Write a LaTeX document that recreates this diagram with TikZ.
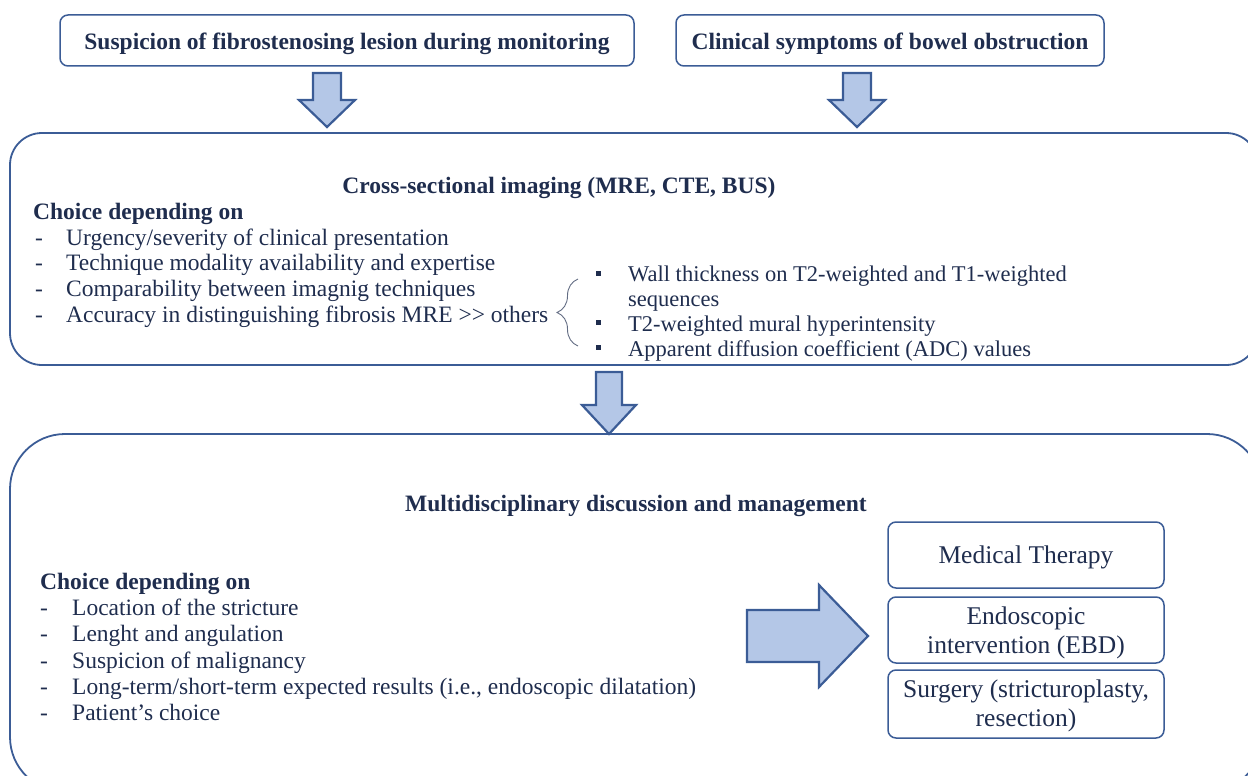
\documentclass[tikz,border=0pt]{standalone}
\usepackage{fontspec}
\setmainfont{Liberation Serif}
\usetikzlibrary{decorations.pathreplacing}
\definecolor{txt}{HTML}{1F2D4E}
\definecolor{edge}{HTML}{3B5C96}
\definecolor{afill}{HTML}{B4C7E7}
\newcommand\blockdown[6]{\draw[blk] (#1-#5,#2) -- (#1+#5,#2) -- (#1+#5,#3) -- (#1+#6,#3) -- (#1,#4) -- (#1-#6,#3) -- (#1-#5,#3) -- cycle;}
\begin{document}
\begin{tikzpicture}[x=1pt,y=-1pt,
  box/.style={draw=edge, line width=1.5pt, rounded corners=8pt, fill=white, inner sep=0},
  bigbox/.style={draw=edge, line width=1.8pt},
  blk/.style={draw=edge, line width=2.2pt, fill=afill, line join=miter},
  hd/.style={text=txt, font=\fontsize{23.5}{27}\selectfont\bfseries, inner sep=0, anchor=base},
  lead/.style={text=txt, font=\fontsize{23.5}{27}\selectfont\bfseries, inner sep=0, anchor=base west},
  itm/.style={text=txt, font=\fontsize{23.5}{27}\selectfont, inner sep=0, anchor=base west},
  sitm/.style={text=txt, font=\fontsize{22.5}{27}\selectfont, inner sep=0, anchor=base west},
  opt/.style={box, minimum width=276pt},
  otx/.style={text=txt, font=\fontsize{25.5}{28.5}\selectfont, align=center, inner sep=0},
  sq/.style={fill=txt, minimum size=5pt, inner sep=0}
]
\useasboundingbox (0,0) rectangle (1248,776);
\clip (0,0) rectangle (1248,776);

% top boxes
\node[box, minimum width=574pt, minimum height=51pt] (s1) at (347,40.5) {};
\node[hd] (s1t) at (347,50) {Suspicion of fibrostenosing lesion during monitoring};
\node[box, minimum width=428pt, minimum height=51pt] (s2) at (890,40.5) {};
\node[hd] (s2t) at (890,50) {Clinical symptoms of bowel obstruction};

% down arrows
\blockdown{327}{73}{100}{127}{14}{28}
\blockdown{857}{73}{100}{127}{14}{28}

% middle big box
\draw[bigbox, rounded corners=32pt] (10,133) rectangle (1258,365);
\node[hd] (c1) at (559,193) {Cross-sectional imaging (MRE, CTE, BUS)};
\node[lead] (c2) at (33,219) {Choice depending on};
\foreach \y/\t [count=\i] in {245/{Urgency/severity of clinical presentation},
  270/{Technique modality availability and expertise},
  296/{Comparability between imagnig techniques},
  322/{Accuracy in distinguishing fibrosis MRE >{}> others}}{
  \node[itm] (cd\i) at (35,\y) {-};
  \node[itm] (ct\i) at (66,\y) {\t};
}
\coordinate (brtop) at (578,279);
\coordinate (brbot) at (578,346);
\draw[txt!70, line width=0.9pt, decorate, decoration={brace, amplitude=21pt}] (brbot) -- (brtop);
\node[sq] (b1) at (598,273) {};
\node[sq] (b2) at (598,322) {};
\node[sq] (b3) at (598,347) {};
\node[sitm] (bt1) at (628,281) {Wall thickness on T2-weighted and T1-weighted};
\node[sitm] (bt1b) at (628,306) {sequences};
\node[sitm] (bt2) at (628,331) {T2-weighted mural hyperintensity};
\node[sitm] (bt3) at (628,356) {Apparent diffusion coefficient (ADC) values};

% arrow 3
\blockdown{609}{372}{405}{434}{13}{27}

% bottom big box
\draw[bigbox, rounded corners=55pt] (10,434) rectangle (1262,792);
\node[hd] (m1) at (636,511) {Multidisciplinary discussion and management};
\node[lead] (m2) at (40,589) {Choice depending on};
\foreach \y/\t [count=\i] in {615/{Location of the stricture},
  641/{Lenght and angulation},
  668/{Suspicion of malignancy},
  694/{Long-term/short-term expected results (i.e., endoscopic dilatation)},
  720/{Patient’s choice}}{
  \node[itm] (md\i) at (40,\y) {-};
  \node[itm] (mt\i) at (72,\y) {\t};
}

% right arrow
\draw[blk] (747,610) -- (819,610) -- (819,585) -- (868,636) -- (819,687) -- (819,662) -- (747,662) -- cycle;

% option boxes
\node[opt, minimum height=66pt] (o1) at (1026,555) {};
\node[otx] (o1t) at (1026,557) {Medical Therapy};
\node[opt, minimum height=66pt] (o2) at (1026,630) {};
\node[otx] (o2t) at (1026,633) {Endoscopic\\intervention (EBD)};
\node[opt, minimum height=68pt] (o3) at (1026,704) {};
\node[otx] (o3t) at (1026,706) {Surgery (stricturoplasty,\\resection)};
\end{tikzpicture}
\end{document}
